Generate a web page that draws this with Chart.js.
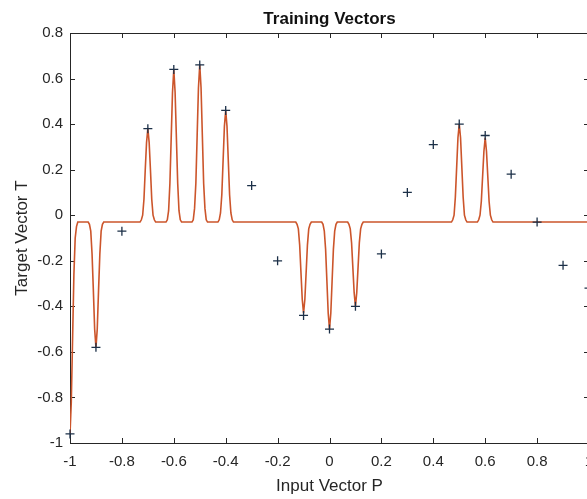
<!DOCTYPE html>
<html>
<head>
<meta charset="utf-8">
<script src="https://cdn.jsdelivr.net/npm/chart.js@4.4.1/dist/chart.umd.min.js"></script>
<style>
  html, body { margin: 0; padding: 0; overflow: hidden; background: #fff; }
  #chart { display: block; }
</style>
</head>
<body>
<canvas id="chart" width="600" height="499"></canvas>
<script>
// training vectors (markers)
var inputP  = [-1, -0.9, -0.8, -0.7, -0.6, -0.5, -0.4, -0.3, -0.2, -0.1, 0, 0.1, 0.2, 0.3, 0.4, 0.5, 0.6, 0.7, 0.8, 0.9, 1];
var targetT = [-0.96, -0.58, -0.07, 0.38, 0.64, 0.66, 0.46, 0.13, -0.20, -0.44, -0.50, -0.40, -0.17, 0.10, 0.31, 0.40, 0.35, 0.18, -0.03, -0.22, -0.32];

// network output curve
var netP = [
  -1, -0.995, -0.99, -0.985, -0.98, -0.975, -0.97,
  -0.93, -0.925, -0.92, -0.915, -0.91, -0.905, -0.9, -0.895, -0.89, -0.885, -0.88, -0.875, -0.87,
  -0.73, -0.725, -0.72, -0.715, -0.71, -0.705, -0.7, -0.695, -0.69, -0.685, -0.68, -0.675, -0.67,
  -0.63, -0.625, -0.62, -0.615, -0.61, -0.605, -0.6, -0.595, -0.59, -0.585, -0.58, -0.575, -0.57,
  -0.53, -0.525, -0.52, -0.515, -0.51, -0.505, -0.5, -0.495, -0.49, -0.485, -0.48, -0.475, -0.47,
  -0.43, -0.425, -0.42, -0.415, -0.41, -0.405, -0.4, -0.395, -0.39, -0.385, -0.38, -0.375, -0.37,
  -0.13, -0.125, -0.12, -0.115, -0.11, -0.105, -0.1, -0.095, -0.09, -0.085, -0.08, -0.075, -0.07,
  -0.03, -0.025, -0.02, -0.015, -0.01, -0.005, 0, 0.005, 0.01, 0.015, 0.02, 0.025, 0.03,
  0.07, 0.075, 0.08, 0.085, 0.09, 0.095, 0.1, 0.105, 0.11, 0.115, 0.12, 0.125, 0.13,
  0.47, 0.475, 0.48, 0.485, 0.49, 0.495, 0.5, 0.505, 0.51, 0.515, 0.52, 0.525, 0.53,
  0.57, 0.575, 0.58, 0.585, 0.59, 0.595, 0.6, 0.605, 0.61, 0.615, 0.62, 0.625, 0.63,
  1
];
var netA = [
  -0.96, -0.82, -0.54, -0.26, -0.10, -0.05, -0.03,
  -0.03, -0.04, -0.07, -0.17, -0.33, -0.50, -0.58, -0.50, -0.33, -0.17, -0.07, -0.04, -0.03,
  -0.03, -0.02, 0.00, 0.07, 0.20, 0.32, 0.38, 0.32, 0.20, 0.07, 0.00, -0.02, -0.03,
  -0.03, -0.02, 0.02, 0.14, 0.34, 0.54, 0.64, 0.54, 0.34, 0.14, 0.02, -0.02, -0.03,
  -0.03, -0.02, 0.03, 0.14, 0.35, 0.56, 0.66, 0.56, 0.35, 0.14, 0.03, -0.02, -0.03,
  -0.03, -0.02, 0.01, 0.09, 0.24, 0.39, 0.46, 0.39, 0.24, 0.09, 0.01, -0.02, -0.03,
  -0.03, -0.04, -0.06, -0.13, -0.25, -0.37, -0.43, -0.37, -0.25, -0.13, -0.06, -0.04, -0.03,
  -0.03, -0.04, -0.07, -0.15, -0.29, -0.43, -0.50, -0.43, -0.29, -0.15, -0.07, -0.04, -0.03,
  -0.03, -0.04, -0.06, -0.12, -0.23, -0.34, -0.40, -0.34, -0.23, -0.12, -0.06, -0.04, -0.03,
  -0.03, -0.02, 0.00, 0.08, 0.21, 0.34, 0.40, 0.34, 0.21, 0.08, 0.00, -0.02, -0.03,
  -0.03, -0.02, 0.00, 0.06, 0.17, 0.28, 0.34, 0.28, 0.17, 0.06, 0.00, -0.02, -0.03,
  -0.03
];

var xTicks = [-1, -0.8, -0.6, -0.4, -0.2, 0, 0.2, 0.4, 0.6, 0.8, 1];
var yTicks = [-1, -0.8, -0.6, -0.4, -0.2, 0, 0.2, 0.4, 0.6, 0.8];

var FONT = '"Liberation Sans", Arial, Helvetica, sans-serif';
var INK = '#262626';

function toPoints(xs, ys){
    return xs.map(function(x, i){ return {x: x, y: ys[i]}; });
}

function tickText(v){
    return String(+Number(v).toFixed(1));
}

// matlab style box with ticks pointing inwards
var boxPlugin = {
    id: 'box',
    beforeDatasetsDraw: function(chart){
        var ctx = chart.ctx, a = chart.chartArea;
        var xs = chart.scales.x, ys = chart.scales.y;
        var len = 5;
        ctx.save();
        ctx.strokeStyle = INK;
        ctx.lineWidth = 1;
        ctx.beginPath();
        ctx.rect(Math.round(a.left) + 0.5, Math.round(a.top) + 0.5,
                 Math.round(a.right - a.left), Math.round(a.bottom - a.top));
        xTicks.forEach(function(v){
            var px = Math.round(xs.getPixelForValue(v)) + 0.5;
            ctx.moveTo(px, a.bottom); ctx.lineTo(px, a.bottom - len);
            ctx.moveTo(px, a.top); ctx.lineTo(px, a.top + len);
        });
        yTicks.forEach(function(v){
            var py = Math.round(ys.getPixelForValue(v)) + 0.5;
            ctx.moveTo(a.left, py); ctx.lineTo(a.left + len, py);
            ctx.moveTo(a.right, py); ctx.lineTo(a.right - len, py);
        });
        ctx.stroke();
        ctx.restore();
    }
};

function drawChart(){
    var ctx = document.getElementById('chart');

    new Chart(ctx, {
        type: 'scatter',
        data: {
            datasets: [{
                label: 'Training',
                data: toPoints(inputP, targetT),
                pointStyle: 'cross',
                pointRadius: 4.5,
                pointBorderWidth: 1.3,
                borderColor: '#1c3048',
                backgroundColor: '#1c3048',
                clip: false,
                order: 0
            }, {
                label: 'Network',
                data: toPoints(netP, netA),
                showLine: true,
                borderColor: '#cc552b',
                borderWidth: 1.6,
                pointRadius: 0,
                tension: 0,
                order: 1
            }]
        },
        options: {
            responsive: false,
            animation: false,
            layout: { padding: { left: 0, top: 0, bottom: 0, right: 11 } },
            plugins: {
                legend: { display: false },
                tooltip: { enabled: false },
                title: {
                    display: true,
                    text: 'Training Vectors',
                    color: '#111',
                    fullSize: false,
                    font: { family: FONT, size: 17, weight: 'bold' },
                    padding: { top: 8.8, bottom: 3.8 }
                }
            },
            scales: {
                x: {
                    type: 'linear',
                    min: -1, max: 1,
                    afterBuildTicks: function(s){ s.ticks = xTicks.map(function(v){ return {value: v}; }); },
                    afterFit: function(s){ s.height = 56; s.paddingLeft = 0; s.paddingRight = 0; },
                    grid: { display: false, drawTicks: false },
                    border: { display: false },
                    ticks: { color: INK, padding: 10, maxRotation: 0, autoSkip: false,
                             callback: tickText,
                             font: { family: FONT, size: 15 } },
                    title: { display: true, text: 'Input Vector P', color: INK,
                             font: { family: FONT, size: 17 }, padding: { top: 0, bottom: 2.8 } }
                },
                y: {
                    type: 'linear',
                    min: -1, max: 0.8,
                    afterBuildTicks: function(s){ s.ticks = yTicks.map(function(v){ return {value: v}; }); },
                    afterFit: function(s){ s.width = 70; s.paddingTop = 0; s.paddingBottom = 0; },
                    grid: { display: false, drawTicks: false },
                    border: { display: false },
                    ticks: { color: INK, padding: 7, autoSkip: false,
                             callback: tickText,
                             font: { family: FONT, size: 15 } },
                    title: { display: true, text: 'Target Vector T', color: INK,
                             font: { family: FONT, size: 17 }, padding: { top: 12.3, bottom: 0 } }
                }
            }
        },
        plugins: [boxPlugin]
    });
}

drawChart();
</script>
</body>
</html>
